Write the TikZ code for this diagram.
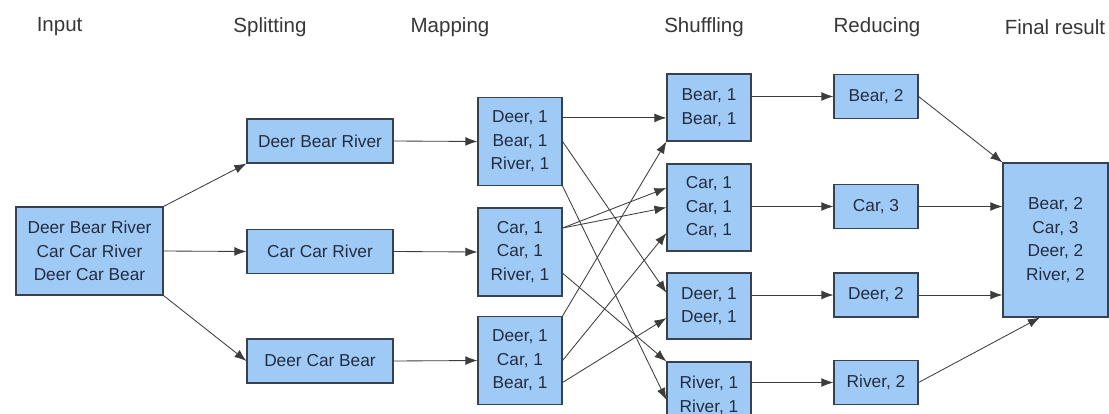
\documentclass[tikz,border=0pt]{standalone}
\usepackage{fontspec}
\setmainfont{Liberation Sans}
\usepackage{tikz}
\usetikzlibrary{positioning,calc,arrows.meta}
\definecolor{boxfill}{RGB}{160, 202, 246}
\definecolor{boxline}{RGB}{55, 65, 80}
\definecolor{boxtext}{RGB}{35, 45, 65}
\definecolor{edgecolor}{RGB}{60, 60, 60}
\definecolor{headcolor}{RGB}{55, 55, 55}

\begin{document}
\begin{tikzpicture}[
    box/.style={rectangle, draw=boxline, line width=0.8pt, fill=boxfill, text=boxtext, align=center, inner sep=0pt, font=\fontsize{12.3}{16.7}\selectfont},
    wbox/.style={box, minimum width=3.65cm},
    nbox/.style={box, minimum width=2.1cm},
    head/.style={text=headcolor, font=\fontsize{14.6}{17}\selectfont},
    edge/.style={-{Latex[length=3mm,width=2.2mm]}, edgecolor, semithick},
]
    \useasboundingbox (0, 0) rectangle (27.725, 10.325);

    % Column heads
    \node[head] (h1) at (1.49, 9.65) {Input};
    \node[head] (h2) at (6.75, 9.65) {Splitting};
    \node[head] (h3) at (11.25, 9.65) {Mapping};
    \node[head] (h4) at (17.6, 9.65) {Shuffling};
    \node[head] (h5) at (21.925, 9.65) {Reducing};
    \node[head] (h6) at (26.375, 9.65) {Final result};

    % Input
    \node[wbox, minimum width=3.675cm, minimum height=2.2cm] (in) at (2.2375, 4.05) {Deer Bear River\\Car Car River\\Deer Car Bear};

    % Splitting
    \node[wbox, minimum height=1.1cm] (sp1) at (8, 6.8) {Deer Bear River};
    \node[wbox, minimum height=1.1cm] (sp2) at (8, 4.0375) {Car Car River};
    \node[wbox, minimum height=1.1cm] (sp3) at (8, 1.3) {Deer Car Bear};

    % Mapping
    \node[nbox, minimum height=2.2cm] (mp1) at (13, 6.7875) {Deer, 1\\Bear, 1\\River, 1};
    \node[nbox, minimum height=2.2cm] (mp2) at (13, 4.025) {Car, 1\\Car, 1\\River, 1};
    \node[nbox, minimum height=2.2cm] (mp3) at (13, 1.3125) {Deer, 1\\Car, 1\\Bear, 1};

    % Shuffling
    \node[nbox, minimum height=1.675cm] (sh1) at (17.725, 7.6375) {Bear, 1\\Bear, 1};
    \node[nbox, minimum height=2.175cm] (sh2) at (17.725, 5.1375) {Car, 1\\Car, 1\\Car, 1};
    \node[nbox, minimum height=1.65cm] (sh3) at (17.725, 2.675) {Deer, 1\\Deer, 1};
    \node[nbox, minimum height=1.675cm] (sh4) at (17.725, 0.4375) {River, 1\\River, 1};

    % Reducing
    \node[nbox, minimum height=1.1cm] (rd1) at (21.9, 7.9125) {Bear, 2};
    \node[nbox, minimum height=1.1cm] (rd2) at (21.9, 5.1625) {Car, 3};
    \node[nbox, minimum height=1.1cm] (rd3) at (21.9, 2.95) {Deer, 2};
    \node[nbox, minimum height=1.1cm] (rd4) at (21.9, 0.7625) {River, 2};

    % Final result
    \node[box, minimum width=2.625cm, minimum height=3.85cm] (fin) at (26.3875, 4.325) {Bear, 2\\Car, 3\\Deer, 2\\River, 2};

    % === EDGES ===

    % Input -> splitting
    \draw[edge] (in.north east) -- (sp1.south west);
    \draw[edge] (in.east) -- (sp2.west);
    \draw[edge] (in.south east) -- (sp3.west);

    % Splitting -> mapping
    \foreach \i in {1,2,3} {
        \draw[edge] (sp\i.east) -- (mp\i.west);
    }

    % Mapping -> shuffling
    \draw[edge] ([yshift=0.59cm]mp1.east) -- ([yshift=-0.26cm]sh1.west);
    \draw[edge] (mp1.east) -- ([yshift=0.33cm]sh3.west);
    \draw[edge] (mp1.south east) -- ([yshift=-0.11cm]sh4.west);
    \draw[edge] ([yshift=0.6cm]mp2.east) -- ([yshift=0.49cm]sh2.west);
    \draw[edge] ([yshift=0.6cm]mp2.east) -- (sh2.west);
    \draw[edge] ([yshift=-0.53cm]mp2.east) -- (sh4.north west);
    \draw[edge] (mp3.north east) -- (sh1.south west);
    \draw[edge] (mp3.east) -- ([yshift=-0.64cm]sh2.west);
    \draw[edge] ([yshift=-0.55cm]mp3.east) -- ([yshift=-0.3cm]sh3.west);

    % Shuffling -> reducing
    \foreach \i in {1,...,4} {
        \draw[edge] (sh\i.east |- rd\i.west) -- (rd\i.west);
    }

    % Reducing -> final result
    \draw[edge] (rd1.east) -- (fin.north west);
    \draw[edge] (rd2.east) -- (rd2.east -| fin.west);
    \draw[edge] (rd3.east) -- (rd3.east -| fin.west);
    \draw[edge] (rd4.east) -- ([xshift=-0.39cm]fin.south);
\end{tikzpicture}
\end{document}
